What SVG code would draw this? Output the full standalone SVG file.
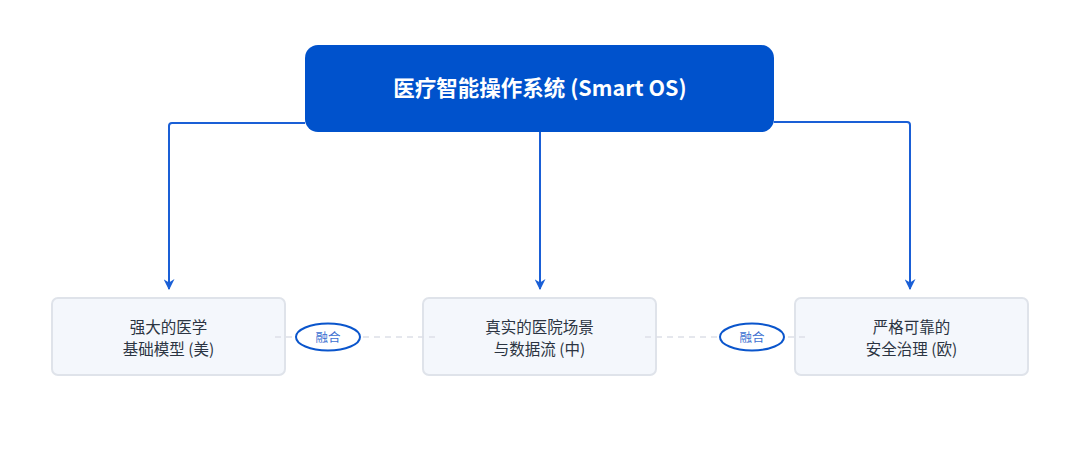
<svg xmlns="http://www.w3.org/2000/svg" width="1080" height="471" viewBox="0 0 1080 471">
<defs>
<style>
.box{fill:#f4f7fc;stroke:#dfe3ea;stroke-width:2}
.txt{font-family:"Noto Sans CJK SC","Noto Sans",sans-serif;font-size:15.5px;fill:#2b3442;text-anchor:middle}
.conn{fill:none;stroke:#1a5fd6;stroke-width:2}
.dash{stroke:#dde0e7;stroke-width:1.5;stroke-dasharray:6 5}
.pill{fill:#ffffff;stroke:#0a55cc;stroke-width:2}
.pilltxt{font-family:"Noto Sans CJK SC","Noto Sans",sans-serif;font-size:12.5px;fill:#3c6fd1;text-anchor:middle}
</style>
<marker id="arr" viewBox="0 0 10 10" refX="9" refY="5" markerWidth="5.5" markerHeight="5.5" orient="auto" markerUnits="strokeWidth">
<path d="M0,0 L10,5 L0,10 L3,5 Z" fill="#1a5fd6"/>
</marker>
</defs>
<rect width="1080" height="471" fill="#ffffff"/>
<g id="connectors">
<path class="conn" d="M305,123 H172 Q169,123 169,126 V289" marker-end="url(#arr)"/>
<path class="conn" d="M540,132 V289" marker-end="url(#arr)"/>
<path class="conn" d="M774,122 H907 Q910,122 910,125 V289" marker-end="url(#arr)"/>
</g>
<g id="top">
<rect x="305" y="45" width="469" height="87" rx="13" fill="#0052cc"/>
<text x="540" y="95.5" font-family="'Noto Sans CJK SC','Noto Sans',sans-serif" font-size="21.5" font-weight="bold" fill="#ffffff" text-anchor="middle">医疗智能操作系统 (Smart OS)</text>
</g>
<g id="left">
<rect class="box" x="52" y="298" width="233" height="77" rx="6"/>
<text class="txt"><tspan x="168.5" y="332.5">强大的医学</tspan><tspan x="168.5" y="355">基础模型 (美)</tspan></text>
</g>
<g id="middle">
<rect class="box" x="423" y="298" width="233" height="77" rx="6"/>
<text class="txt"><tspan x="539.5" y="332.5">真实的医院场景</tspan><tspan x="539.5" y="355">与数据流 (中)</tspan></text>
</g>
<g id="right">
<rect class="box" x="795" y="298" width="233" height="77" rx="6"/>
<text class="txt"><tspan x="911.5" y="332.5">严格可靠的</tspan><tspan x="911.5" y="355">安全治理 (欧)</tspan></text>
</g>
<g id="links">
<line class="dash" x1="275" y1="337" x2="436" y2="337"/>
<line class="dash" x1="645" y1="337" x2="805" y2="337"/>
</g>
<g id="fuse1">
<ellipse class="pill" cx="328" cy="337" rx="32" ry="13.5"/>
<text class="pilltxt" x="328" y="341.5">融合</text>
</g>
<g id="fuse2">
<ellipse class="pill" cx="752" cy="337" rx="32" ry="13.5"/>
<text class="pilltxt" x="752" y="341.5">融合</text>
</g>
</svg>
